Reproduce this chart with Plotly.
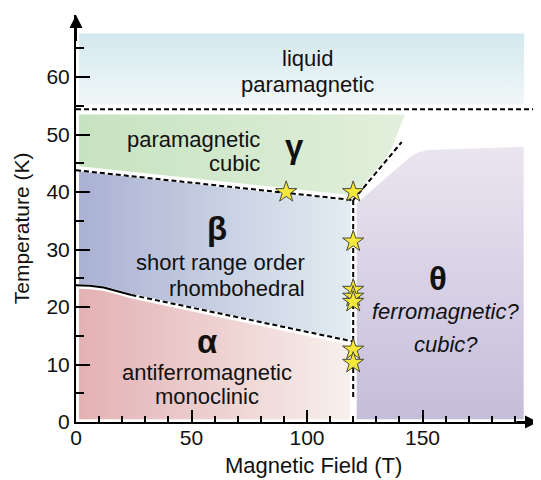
import plotly.graph_objects as go

# phase regions (field T, temperature K)
LIQUID_T = [1.3, 194, 194, 1.3]
LIQUID_K = [55.3, 55.3, 67.6, 67.6]

GAMMA_T = [1.3, 142.4, 139.5, 136.5, 132, 127, 122.5, 120.5, 1.3]
GAMMA_K = [53.5, 53.5, 50.5, 47.5, 44.7, 42.4, 40.5, 39.4, 44.5]

BETA_T = [1.3, 119, 119, 24, 18, 12, 6, 1.3]
BETA_K = [43.6, 38.4, 14.2, 22.3, 23.0, 23.6, 23.9, 24.0]

ALPHA_T = [1.3, 6, 12, 18, 24, 118.6, 118.6, 1.3]
ALPHA_K = [23.2, 23.1, 22.8, 22.2, 21.5, 13.4, 0.5, 0.5]

THETA_T = [121.5, 121.5, 144.6, 148, 152, 193.8, 193.8]
THETA_K = [0.5, 38.0, 46.1, 46.9, 47.3, 47.9, 0.5]

# phase boundaries
LIQUID_LINE_T = [0, 200]
LIQUID_LINE_K = [54.4, 54.4]
BG_LINE_T = [0, 120]
BG_LINE_K = [43.8, 38.6]
AB_SOLID_T = [0, 6, 12, 18, 24]
AB_SOLID_K = [23.8, 23.7, 23.4, 22.8, 22.1]
AB_DASH_T = [24, 120]
AB_DASH_K = [22.1, 14.0]
VERT_LINE_T = [120, 120]
VERT_LINE_K = [38.6, 4.0]
DIAG_LINE_T = [120, 141]
DIAG_LINE_K = [38.6, 48.7]

# measured transitions (stars)
STAR_T = [91, 120, 120, 120, 120, 120, 120, 120]
STAR_K = [40.0, 40.0, 31.4, 23.0, 21.8, 20.9, 12.6, 10.3]

X_TICKS = [0, 50, 100, 150]
Y_TICKS = [0, 10, 20, 30, 40, 50, 60]
X_MINOR = [10, 20, 30, 40, 60, 70, 80, 90, 110, 120, 130, 140, 160, 170, 180, 190]
Y_MINOR = [5, 15, 25, 35, 45, 55, 65]

TEXT_LINES = ["liquid", "paramagnetic", "paramagnetic", "cubic",
              "short range order", "rhombohedral", "antiferromagnetic", "monoclinic"]
TEXT_T = [100, 100, 80.5, 80.5, 99.8, 99.8, 56.9, 56.9]
TEXT_K = [63.3, 58.7, 49.2, 45.0, 27.7, 23.3, 8.6, 4.4]
TEXT_ANCHOR = ["center", "center", "right", "right", "right", "right", "center", "center"]

GREEK = ["γ", "β", "α", "θ"]
GREEK_T = [94.4, 61, 56.6, 156.8]
GREEK_K = [47.9, 33.7, 14.0, 25.0]

ITALIC_LINES = ["ferromagnetic?", "cubic?"]
ITALIC_T = [160, 160]
ITALIC_K = [19.2, 13.4]

FONT = "Liberation Sans, Arial, sans-serif"
TEXT_COLOR = "#111111"

fig = go.Figure()


def add_region(t, k, kind, colors, start, stop):
    fig.add_trace(
        go.Scatter(
            x=t + [t[0]],
            y=k + [k[0]],
            mode="none",
            fill="toself",
            fillgradient={
                "type": kind,
                "colorscale": [[0, colors[0]], [1, colors[1]]],
                "start": start,
                "stop": stop,
            },
            hoverinfo="skip",
        )
    )


add_region(LIQUID_T, LIQUID_K, "vertical", ["#d3e8ef", "#f1f7f8"], 67.6, 55.3)
add_region(GAMMA_T, GAMMA_K, "horizontal", ["#c6e3c0", "#e2efdc"], 0, 142)
add_region(BETA_T, BETA_K, "horizontal", ["#a9b0d2", "#e2ecf1"], 0, 119)
add_region(ALPHA_T, ALPHA_K, "horizontal", ["#e3b0b3", "#f7f0ec"], 0, 119)
add_region(THETA_T, THETA_K, "vertical", ["#ebe5f0", "#c5bcda"], 48, 0)


def add_line(t, k, dash):
    fig.add_trace(
        go.Scatter(
            x=t,
            y=k,
            mode="lines",
            line={"color": "black", "width": 2, "dash": dash},
            hoverinfo="skip",
        )
    )


add_line(LIQUID_LINE_T, LIQUID_LINE_K, "5px,3px")
add_line(BG_LINE_T, BG_LINE_K, "5px,3px")
add_line(AB_SOLID_T, AB_SOLID_K, "solid")
add_line(AB_DASH_T, AB_DASH_K, "5px,3px")
add_line(VERT_LINE_T, VERT_LINE_K, "5px,3px")
add_line(DIAG_LINE_T, DIAG_LINE_K, "5px,3px")

fig.add_trace(
    go.Scatter(
        x=STAR_T,
        y=STAR_K,
        mode="markers",
        marker={
            "symbol": "star",
            "size": 16,
            "color": "#f6e83a",
            "line": {"color": "#4a4a3a", "width": 1},
        },
        hoverinfo="skip",
    )
)

annotations = []
for text, t, k, anchor in zip(TEXT_LINES, TEXT_T, TEXT_K, TEXT_ANCHOR):
    annotations.append(
        {"x": t, "y": k, "text": text, "showarrow": False, "xanchor": anchor,
         "font": {"size": 22, "color": TEXT_COLOR}}
    )
for text, t, k in zip(GREEK, GREEK_T, GREEK_K):
    annotations.append(
        {"x": t, "y": k, "text": f"<b>{text}</b>", "showarrow": False,
         "font": {"size": 33, "color": TEXT_COLOR}}
    )
for text, t, k in zip(ITALIC_LINES, ITALIC_T, ITALIC_K):
    annotations.append(
        {"x": t, "y": k, "text": f"<i>{text}</i>", "showarrow": False,
         "font": {"size": 22, "color": TEXT_COLOR}}
    )

# axis arrows
annotations.append(
    {"x": 200, "y": 0, "ax": 190, "ay": 0, "axref": "x", "ayref": "y",
     "text": "", "showarrow": True, "arrowhead": 2, "arrowsize": 1.3,
     "arrowwidth": 2, "arrowcolor": "black"}
)
annotations.append(
    {"x": 0, "y": 70.8, "ax": 0, "ay": 66, "axref": "x", "ayref": "y",
     "text": "", "showarrow": True, "arrowhead": 2, "arrowsize": 1.3,
     "arrowwidth": 2, "arrowcolor": "black"}
)

# axis titles
annotations.append(
    {"x": 103, "y": 0, "yref": "paper", "yanchor": "top", "yshift": -29,
     "text": "Magnetic Field (T)", "showarrow": False,
     "font": {"size": 22, "color": TEXT_COLOR}}
)
annotations.append(
    {"x": 0, "xref": "paper", "xanchor": "center", "xshift": -55, "y": 33.7,
     "text": "Temperature (K)", "textangle": -90, "showarrow": False,
     "font": {"size": 21, "color": TEXT_COLOR}}
)

# the page body adds an 8px offset, so the figure is 8px smaller each way
fig.update_layout(
    width=533,
    height=472,
    margin={"l": 68, "r": 3, "t": 7, "b": 58},
    paper_bgcolor="white",
    plot_bgcolor="white",
    showlegend=False,
    font={"family": FONT, "color": TEXT_COLOR},
    annotations=annotations,
)

fig.update_xaxes(
    range=[0, 200],
    tickvals=X_TICKS,
    ticks="inside",
    ticklen=12,
    tickwidth=2,
    tickcolor="black",
    ticklabelstandoff=-4,
    tickfont={"size": 21, "color": TEXT_COLOR},
    minor={"tickvals": X_MINOR, "ticks": "inside", "ticklen": 6,
           "tickwidth": 1.5, "tickcolor": "black"},
    showline=True,
    linecolor="black",
    linewidth=2,
    showgrid=False,
    zeroline=False,
)

fig.update_yaxes(
    range=[0, 70.8],
    tickvals=Y_TICKS,
    ticks="inside",
    ticklen=14,
    tickwidth=2,
    tickcolor="black",
    tickfont={"size": 21, "color": TEXT_COLOR},
    minor={"tickvals": Y_MINOR, "ticks": "inside", "ticklen": 8,
           "tickwidth": 1.5, "tickcolor": "black"},
    showline=True,
    linecolor="black",
    linewidth=2,
    showgrid=False,
    zeroline=False,
)

fig.write_html("out.html")
